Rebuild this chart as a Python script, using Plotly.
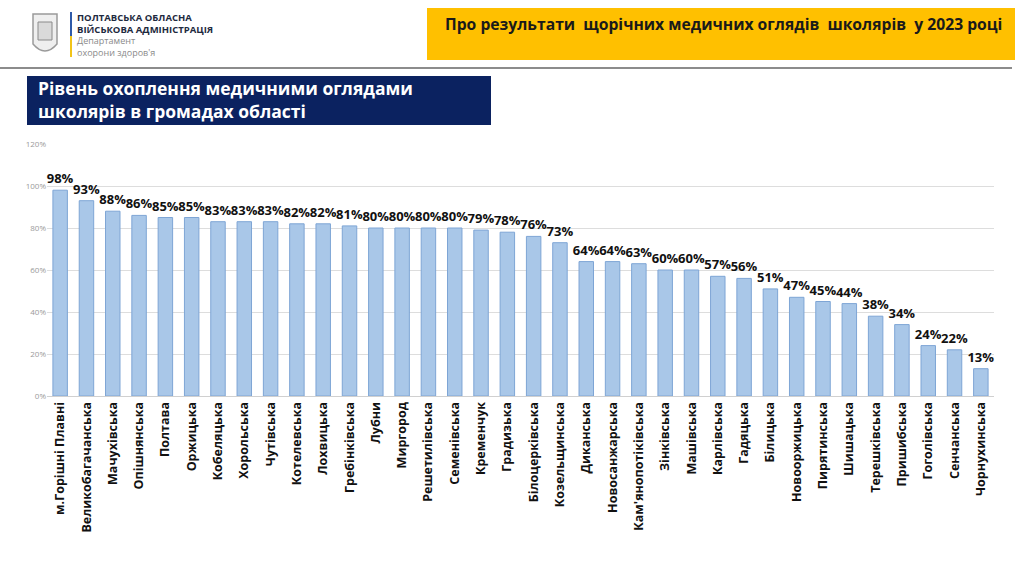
import plotly.graph_objects as go

categories = ["м.Горішні Плавні", "Великобагачанська", "Мачухівська", "Опішнянська", "Полтава",
              "Оржицька", "Кобеляцька", "Хорольська", "Чутівська", "Котелевська", "Лохвицька",
              "Гребінківська", "Лубни", "Миргород", "Решетилівська", "Семенівська", "Кременчук",
              "Градизька", "Білоцерківська", "Козельщинська", "Диканська", "Новосанжарська",
              "Кам'янопотіківська", "Зінківська", "Машівська", "Карлівська", "Гадяцька", "Білицька",
              "Новооржицька", "Пирятинська", "Шишацька", "Терешківська", "Пришибська", "Гоголівська",
              "Сенчанська", "Чорнухинська"]
values = [98, 93, 88, 86, 85, 85, 83, 83, 83, 82, 82, 81, 80, 80, 80, 80, 79, 78, 76, 73,
          64, 64, 63, 60, 60, 57, 56, 51, 47, 45, 44, 38, 34, 24, 22, 13]
y_ticks = [0, 20, 40, 60, 80, 100, 120]

W, H = 1024, 576
FONT = "Open Sans"

fig = go.Figure(go.Bar(
    x=categories,
    y=[v / 100 for v in values],
    text=[f"{v}%" for v in values],
    textposition="outside",
    constraintext="none",
    cliponaxis=False,
    textfont=dict(family=FONT, size=13, color="#111111", weight="bold"),
    marker=dict(color="#A9C7E8", line=dict(color="#7EA5D5", width=1),
                pattern=dict(shape="")),
    width=0.55,
))

fig.update_layout(
    width=W, height=H,
    margin=dict(l=47, r=30, t=144, b=180),
    paper_bgcolor="white", plot_bgcolor="white",
    showlegend=False,
    yaxis=dict(range=[0, 1.2], tickvals=[t / 100 for t in y_ticks],
               ticktext=[f"{t}%" for t in y_ticks],
               gridcolor="#DDDDDD", gridwidth=1, zeroline=False,
               tickfont=dict(family=FONT, size=8, color="#9A9A9A"), ticks="", ticklen=0),
    xaxis=dict(tickangle=-90, tickfont=dict(family=FONT, size=12.5, color="#111111", weight="bold"),
               showline=True, linecolor="#D0D0D0", linewidth=1, ticks=""),
)

shapes = []
annotations = []


def px_x(x):
    return (x - 47) / 947


def px_y(y):
    return (396 - y) / 252


# yellow title box
shapes.append(dict(type="rect", xref="paper", yref="paper",
                   x0=px_x(427), x1=px_x(1015), y0=px_y(60), y1=px_y(8),
                   line=dict(width=0), fillcolor="#FFC000"))
annotations.append(dict(xref="paper", yref="paper", x=px_x(723), y=px_y(24),
                        text="Про результати  щорічних медичних оглядів  школярів  у 2023 році",
                        showarrow=False, xanchor="center", yanchor="middle",
                        font=dict(family=FONT, size=15.7, color="#1A1A1A", weight="bold")))
# separator line
shapes.append(dict(type="line", xref="paper", yref="paper",
                   x0=px_x(0), x1=px_x(1012), y0=px_y(68), y1=px_y(68),
                   line=dict(color="#8C8C8C", width=2)))
# navy subtitle box
shapes.append(dict(type="rect", xref="paper", yref="paper",
                   x0=px_x(27), x1=px_x(491), y0=px_y(125), y1=px_y(76),
                   line=dict(width=0), fillcolor="#0B2260"))
annotations.append(dict(xref="paper", yref="paper", x=px_x(36), y=px_y(100),
                        text="Рівень охоплення медичними оглядами<br>школярів в громадах області",
                        showarrow=False, xanchor="left", yanchor="middle", align="left",
                        font=dict(family=FONT, size=17.5, color="white", weight="bold")))
# logo placeholder (emblem)
shapes.append(dict(type="path", xref="paper", yref="paper",
                   path=f"M {px_x(33)},{px_y(14)} L {px_x(57)},{px_y(14)} L {px_x(57)},{px_y(44)} "
                        f"Q {px_x(45)},{px_y(58)} {px_x(33)},{px_y(44)} Z",
                   line=dict(color="#9A9A9A", width=1.5), fillcolor="#EFEFEF"))
shapes.append(dict(type="rect", xref="paper", yref="paper",
                   x0=px_x(38), x1=px_x(52), y0=px_y(40), y1=px_y(22),
                   line=dict(color="#8A8A8A", width=1), fillcolor="#DADADA"))
# blue / yellow vertical bar
shapes.append(dict(type="line", xref="paper", yref="paper",
                   x0=px_x(71), x1=px_x(71), y0=px_y(36), y1=px_y(12),
                   line=dict(color="#2F5AA8", width=2)))
shapes.append(dict(type="line", xref="paper", yref="paper",
                   x0=px_x(71), x1=px_x(71), y0=px_y(57), y1=px_y(36),
                   line=dict(color="#F2C418", width=2)))
for txt, yy, col, wt, sz in [("ПОЛТАВСЬКА ОБЛАСНА", 17, "#1E2A40", "bold", 9.5),
                             ("ВІЙСЬКОВА АДМІНІСТРАЦІЯ", 29, "#1E2A40", "bold", 9.5),
                             ("Департамент", 41, "#8A8A8A", "normal", 9),
                             ("охорони здоров'я", 52.5, "#8A8A8A", "normal", 9)]:
    annotations.append(dict(xref="paper", yref="paper", x=px_x(75), y=px_y(yy), text=txt,
                            showarrow=False, xanchor="left", yanchor="middle",
                            font=dict(family=FONT, size=sz, color=col, weight=wt)))

fig.update_layout(shapes=shapes, annotations=annotations)
fig.write_html("out.html")
